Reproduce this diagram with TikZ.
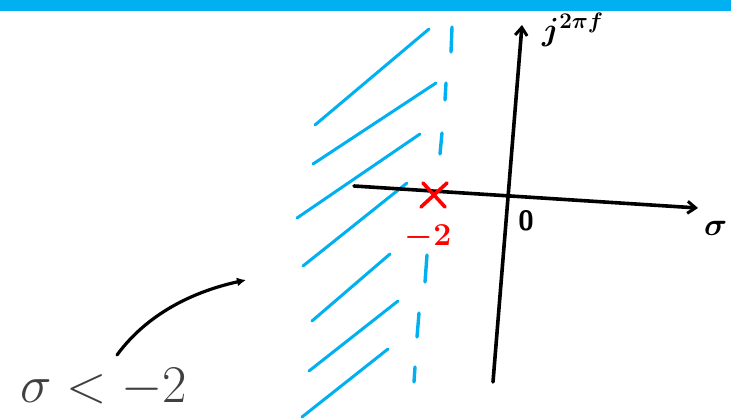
\RequirePackage{fix-cm}
\documentclass[tikz,border=0pt]{standalone}
\usepackage{fontspec}
\usetikzlibrary{arrows.meta}
\definecolor{skyb}{HTML}{00B0F0}
\definecolor{penred}{HTML}{FF0000}
\definecolor{txtgrey}{HTML}{404040}
\begin{document}
\begin{tikzpicture}[x=1pt,y=-1pt,
  hatch/.style={draw=skyb,line width=3pt,line cap=round},
  dashmark/.style={draw=skyb,line width=3.4pt,line cap=round},
  axis/.style={draw=black,line width=3.6pt,line cap=round,-{Straight Barb[length=8pt,width=12pt,line width=3pt]}},
  pen/.style={font=\fontsize{32}{34}\selectfont\sffamily\bfseries\boldmath,inner sep=0pt}]
\useasboundingbox (0,0) rectangle (731,419);
\fill[skyb] (0,0) rectangle (731,11);
% hatching
\draw[hatch] (315,125) -- (429,29);
\draw[hatch] (313,164) -- (436,83);
\draw[hatch] (297,218) -- (420,134);
\draw[hatch] (303,266) -- (407,183);
\draw[hatch] (312,321) -- (390,254);
\draw[hatch] (309,371) -- (398,301);
\draw[hatch] (302,417) -- (388,349);
% dashed boundary
\draw[dashmark] (452,27) -- (451,52);
\draw[dashmark] (446,83) -- (445,100);
\draw[dashmark] (442,133) -- (440,154);
\draw[dashmark] (427,255) -- (425,282);
\draw[dashmark] (419,313) -- (417,337);
\draw[dashmark] (415,367) -- (414,382);
% axes
\coordinate (hs) at (354,186);
\coordinate (he) at (698,208);
\coordinate (vs) at (493,382);
\coordinate (ve) at (522,25);
\draw[axis] (hs) -- (he);
\draw[axis] (vs) -- (ve);
\node[pen,anchor=west] (sig) at (704,228) {$\sigma$};
\node[pen,anchor=west] (jw) at (542,30) {$j^{2\pi f}$};
\node[pen,font=\fontsize{28}{30}\selectfont\sffamily\bfseries] (zero) at (526,221) {0};
% pole
\coordinate (xa) at (423,183); \coordinate (xb) at (445,207);
\coordinate (xc) at (447,183); \coordinate (xd) at (421,207);
\draw[penred,line width=3.6pt,line cap=round] (xa) -- (xb) (xc) -- (xd);
\node[pen,text=penred] (m2) at (428,237) {$-2$};
% label + arrow
\node[anchor=west,text=txtgrey,font=\fontsize{53}{60}\selectfont,inner sep=0pt] (lab) at (20,388) {$\sigma<-2$};
\coordinate (as) at (117,355);
\coordinate (ae) at (246,280);
\draw[line width=3.2pt,line cap=round,-{Latex[length=9pt,width=9pt]}] (as) .. controls (150,310) and (200,290) .. (ae);
\end{tikzpicture}
\end{document}
